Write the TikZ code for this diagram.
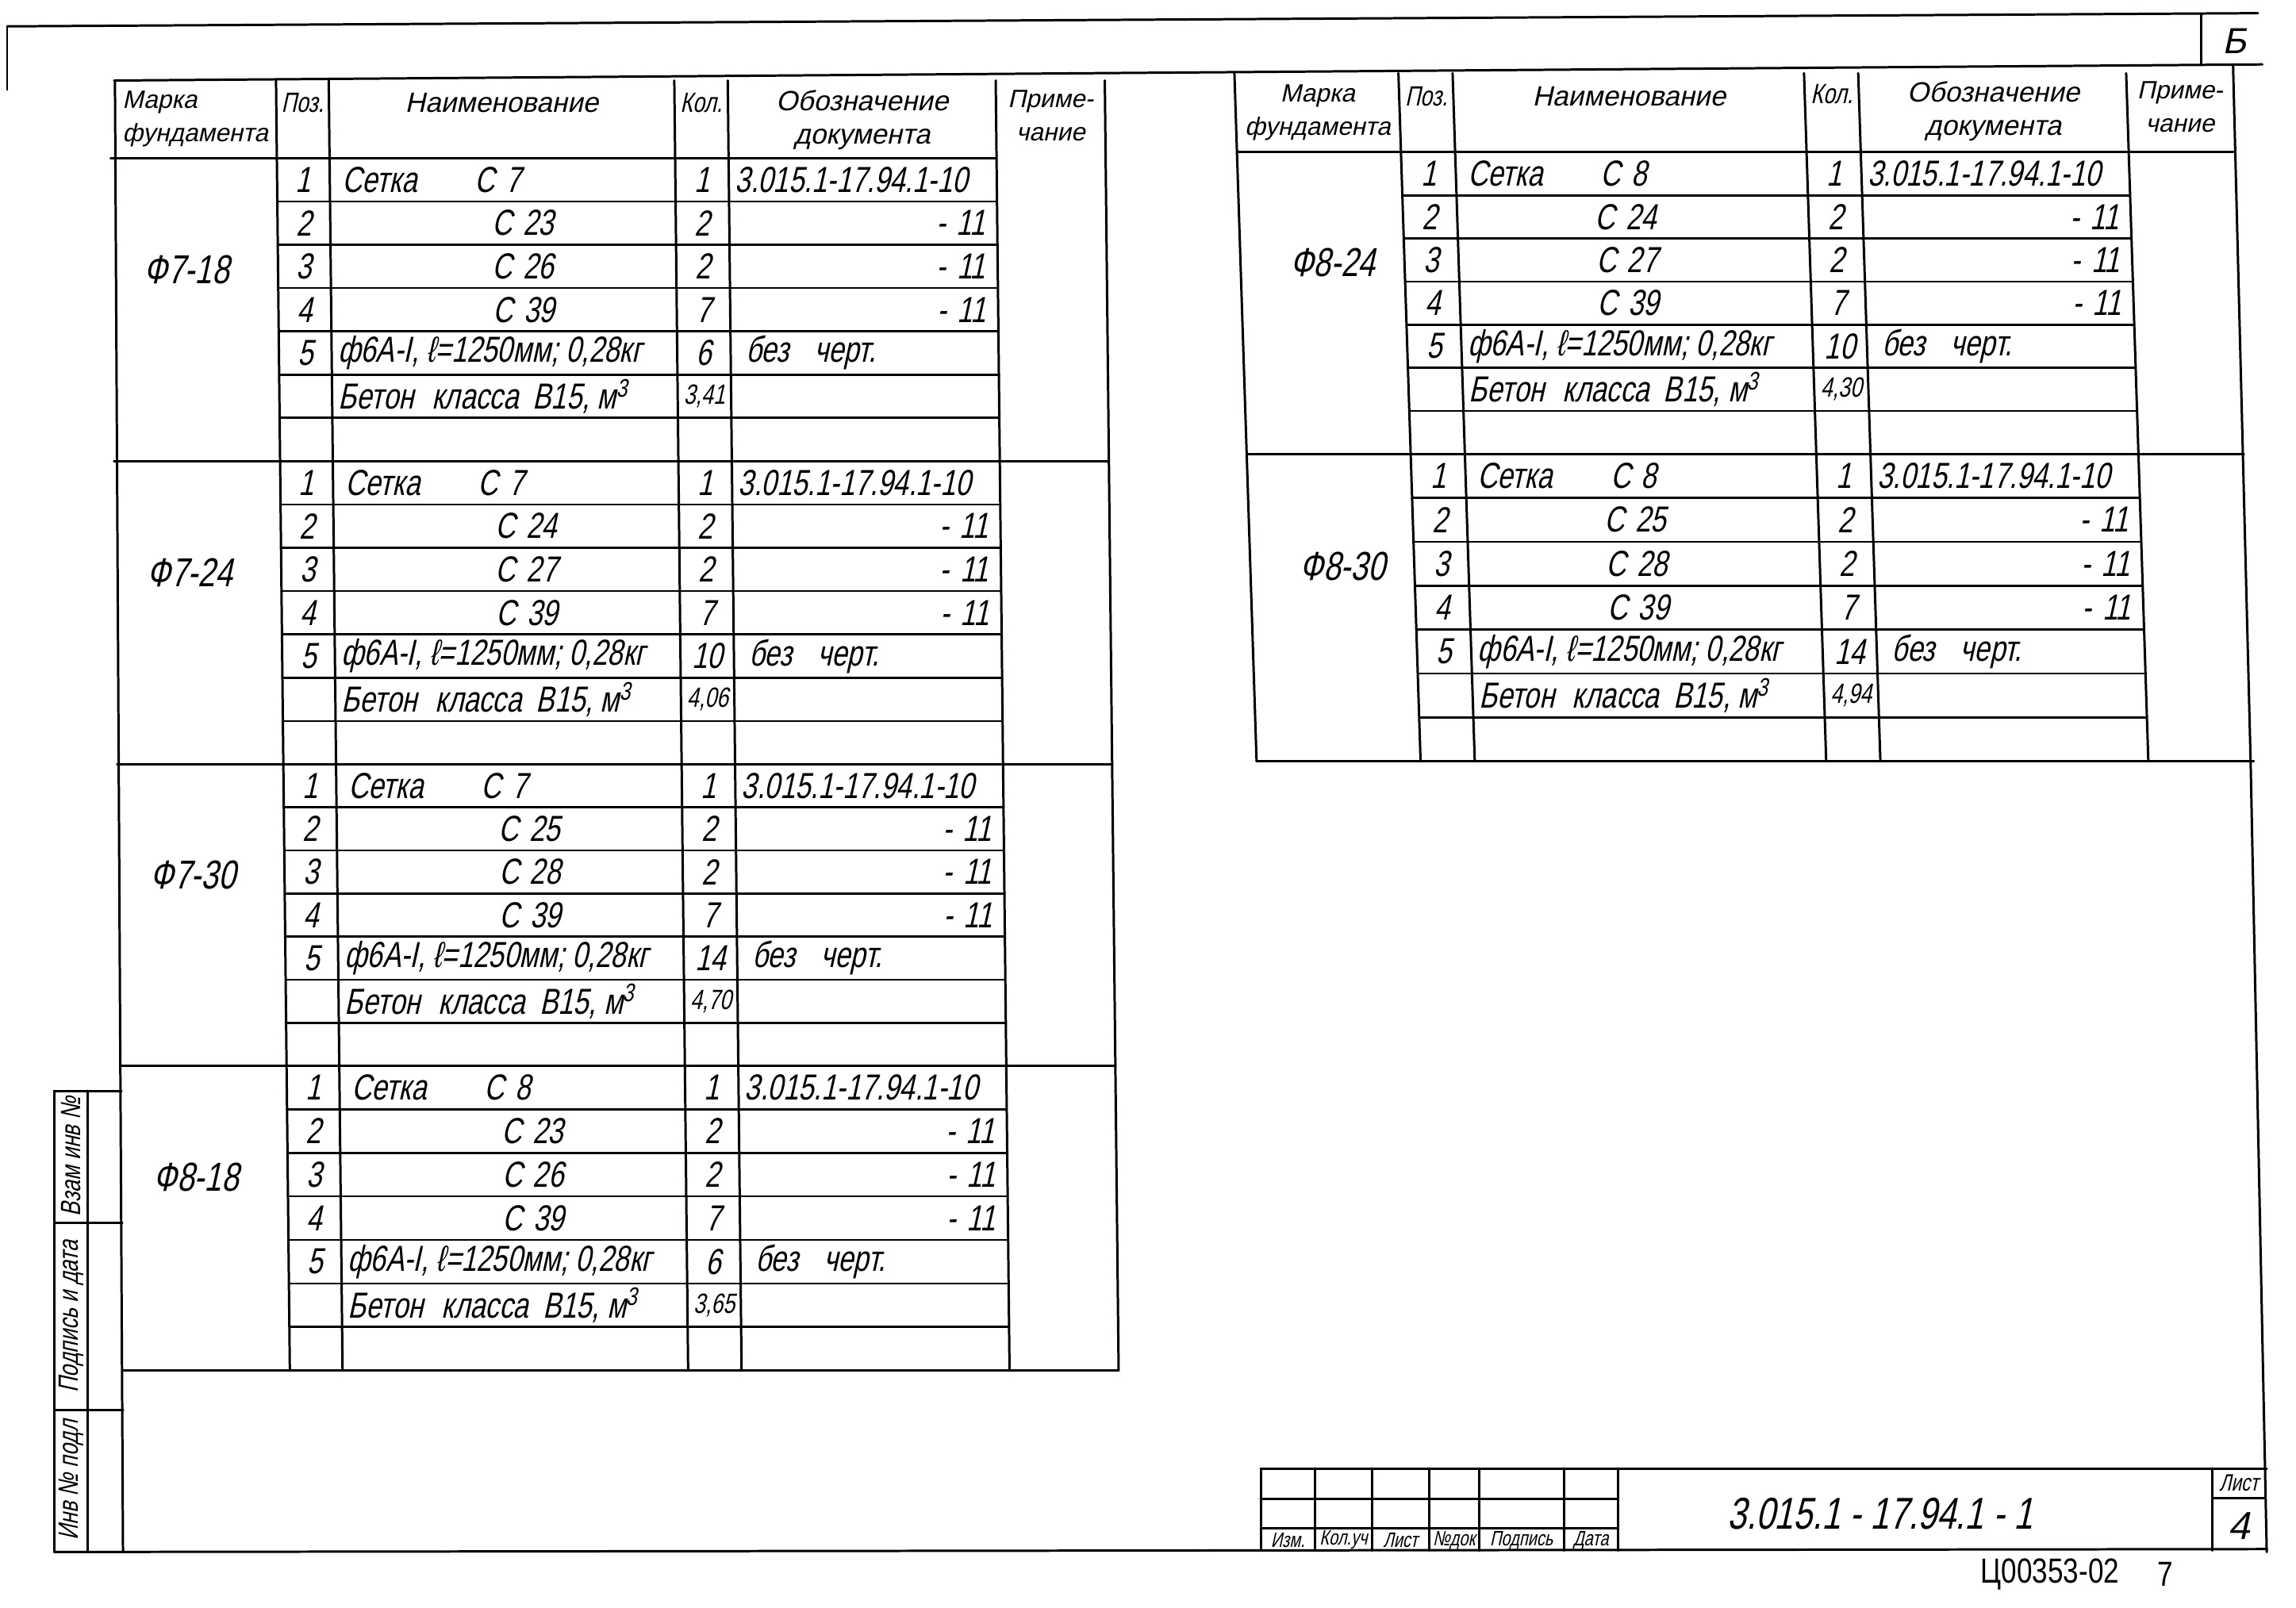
\documentclass[tikz,border=0pt]{standalone}
\usepackage{fontspec}
\newfontfamily\gost[FakeSlant=0.22,FakeStretch=0.76]{Liberation Sans}
\newfontfamily\gostw[FakeSlant=0.22]{Liberation Sans}
\newfontfamily\stampf[FakeStretch=0.8]{Liberation Sans}
\tikzset{
  ln/.style={line width=0.85pt, line cap=round},
  rowln/.style={line width=0.75pt, line cap=round},
  cellt/.style={inner sep=0pt, font=\gost\fontsize{13}{13}\selectfont},
  cellsm/.style={inner sep=0pt, font=\gost\fontsize{10}{10}\selectfont},
  markt/.style={inner sep=0pt, font=\gost\fontsize{14.5}{14.5}\selectfont},
  headt/.style={inner sep=0pt, font=\gostw\fontsize{9}{12}\selectfont, align=center},
  headn/.style={inner sep=0pt, font=\gost\fontsize{10}{12}\selectfont, align=center},
  headbig/.style={inner sep=0pt, font=\gostw\fontsize{10}{12}\selectfont, align=center},
  stampt/.style={inner sep=0pt, font=\gost\fontsize{10}{10}\selectfont, rotate=90},
  tbt/.style={inner sep=0pt, font=\gost\fontsize{7.5}{8}\selectfont},
}
\newcommand\specblock[9]{%
  \pgfmathsetmacro\ya{#1}%
  \pgfmathsetmacro\yb{#2}%
  \pgfmathsetmacro\rh{(#2-#1)/7}%
  \pgfmathsetmacro\rowA{\ya+0.5*\rh}%
  \pgfmathsetmacro\rowB{\ya+1.5*\rh}%
  \pgfmathsetmacro\rowC{\ya+2.5*\rh}%
  \pgfmathsetmacro\rowD{\ya+3.5*\rh}%
  \pgfmathsetmacro\rowE{\ya+4.5*\rh}%
  \pgfmathsetmacro\rowF{\ya+5.5*\rh}%
  \pgfmathsetmacro\xp{(\cB+\cC)/2}%
  \pgfmathsetmacro\xk{(\cD+\cE)/2}%
  \foreach \i in {1,...,6}{\draw[rowln] (\cB,{\ya+\i*\rh}) -- (\cF,{\ya+\i*\rh});}%
  \draw[ln] (\cA,\yb) -- (\cG,\yb);%
  \path (\mx,{\rowC+2}) node[markt] (#9m) {#3}
    (\xp,\rowA) node[cellt] (#9p1) {1}
    (\xp,\rowB) node[cellt] (#9p2) {2}
    (\xp,\rowC) node[cellt] (#9p3) {3}
    (\xp,\rowD) node[cellt] (#9p4) {4}
    (\xp,\rowE) node[cellt] (#9p5) {5}
    ({\cC+8},\rowA) node[cellt,anchor=west] (#9n1) {Сетка\hspace{1.6em}С\hspace{0.3em}#4}
    (\nx,\rowB) node[cellt] (#9n2) {С\hspace{0.3em}#5}
    (\nx,\rowC) node[cellt] (#9n3) {С\hspace{0.3em}#6}
    (\nx,\rowD) node[cellt] (#9n4) {С\hspace{0.3em}39}
    ({\cC+4},\rowE) node[cellt,anchor=west] (#9n5) {ф6A-I, ℓ=1250мм; 0,28кг}
    ({\cC+4},\rowF) node[cellt,anchor=west] (#9n6) {Бетон\hspace{0.5em}класса\hspace{0.4em}В15, м\textsuperscript{3}}
    (\xk,\rowA) node[cellt] (#9k1) {1}
    (\xk,\rowB) node[cellt] (#9k2) {2}
    (\xk,\rowC) node[cellt] (#9k3) {2}
    (\xk,\rowD) node[cellt] (#9k4) {7}
    (\xk,\rowE) node[cellt] (#9k5) {#7}
    (\xk,\rowF) node[cellsm] (#9k6) {#8}
    ({\cE+4},\rowA) node[cellt,anchor=west] (#9o1) {3.015.1-17.94.1-10}
    ({\cF-8},\rowB) node[cellt,anchor=east] (#9o2) {-\hspace{0.3em}11}
    ({\cF-8},\rowC) node[cellt,anchor=east] (#9o3) {-\hspace{0.3em}11}
    ({\cF-8},\rowD) node[cellt,anchor=east] (#9o4) {-\hspace{0.3em}11}
    ({\cE+10},\rowE) node[cellt,anchor=west] (#9o5) {без\hspace{0.7em}черт.};%
}
\begin{document}
\begin{tikzpicture}[x=0.018457cm,y=-0.018457cm]
\useasboundingbox (0,0) rectangle (1568,1098);
\fill[white] (0,0) rectangle (1568,1098);

% ---- sheet frame ----
\coordinate (tl) at (5,18);
\coordinate (tr) at (1542,9);
\draw[ln] (tl) -- (tr);
\draw[line width=0.5pt] (tl) -- (5,62);
\draw[ln] (1503,10) -- (1503,44);
\node[inner sep=0pt, font=\gostw\fontsize{13}{13}\selectfont] (bb) at (1526,28) {Б};
\draw[ln] (78,55) -- (1545,44);               % common top line of both tables
\draw[ln] (1525,44) -- (1537,520) -- (1548,1060); % right frame line
\draw[ln] (78.5,55) -- (84,1060);             % left frame line
\draw[ln] (37,1060) -- (1548,1058);           % bottom frame line

% ---- left table ----
\begin{scope}[y={(0.000203cm,-0.018457cm)}, xshift=-0.01096cm]
\def\cA{75}\def\cB{188.5}\def\cC{224.5}\def\cD{460.5}\def\cE{497}\def\cF{680}\def\cG{754.5}
\def\mx{126}\def\nx{356}
\foreach \c in {\cB,\cC,\cD,\cE,\cF,\cG}{\draw[ln] (\c,55) -- (\c,936);}
\draw[ln] (\cA,108) -- (\cF,108);
\node[headt, align=left, anchor=west] (lh1) at (\cA+8,81) {Марка\\фундамента};
\node[headn] (lh2) at ({(\cB+\cC)/2},70) {Поз.};
\node[headbig] (lh3) at ({(\cC+\cD)/2},70) {Наименование};
\node[headn] (lh4) at ({(\cD+\cE)/2},70) {Кол.};
\node[headbig] (lh5) at ({(\cE+\cF)/2},82) {Обозначение\\документа};
\node[headt] (lh6) at ({(\cF+\cG)/2},79) {Приме-\\чание};
\specblock{108}{315}{Ф7-18}{7}{23}{26}{6}{3,41}{a}
\specblock{315}{522}{Ф7-24}{7}{24}{27}{10}{4,06}{b}
\specblock{522}{728}{Ф7-30}{7}{25}{28}{14}{4,70}{c}
\specblock{728}{936}{Ф8-18}{8}{23}{26}{6}{3,65}{d}
\end{scope}

% ---- right table ----
\begin{scope}[y={(0.0005906cm,-0.018457cm)}, xshift=-0.02953cm]
\def\cA{843}\def\cB{955}\def\cC{992}\def\cD{1232}\def\cE{1269}\def\cF{1452}\def\cG{1524}
\def\mx{906}\def\nx{1107}
\foreach \c in {\cA,\cB,\cC,\cD,\cE,\cF}{\draw[ln] (\c,50) -- (\c,520);}
\draw[ln] (\cA,104) -- (\cG,104);
\node[headt] (rh1) at ({(\cA+\cB)/2},77) {Марка\\фундамента};
\node[headn] (rh2) at ({(\cB+\cC)/2},66) {Поз.};
\node[headbig] (rh3) at ({(\cC+\cD)/2},66) {Наименование};
\node[headn] (rh4) at ({(\cD+\cE)/2},64) {Кол.};
\node[headbig] (rh5) at ({(\cE+\cF)/2},76) {Обозначение\\документа};
\node[headt] (rh6) at ({(\cF+\cG)/2},73) {Приме-\\чание};
\specblock{104}{310}{Ф8-24}{8}{24}{27}{10}{4,30}{e}
\specblock{310}{520}{Ф8-30}{8}{25}{28}{14}{4,94}{f}
\end{scope}

% ---- stamp column (lower left) ----
\draw[ln] (83,745) -- (37,745) -- (37,1060);
\draw[ln] (60,745) -- (60,1060);
\draw[ln] (37,835) -- (83.5,835);
\draw[ln] (37,963) -- (84,963);
\node[stampt] (s1) at (48.5,790) {Взам инв №};
\node[stampt] (s2) at (48.5,899) {Подпись и дата};
\node[stampt] (s3) at (48.5,1011) {Инв № подл};

% ---- title block ----
\draw[ln] (861,1003) -- (1548,1003);
\draw[ln] (861,1024) -- (1105,1024);
\draw[ln] (861,1044) -- (1105,1044);
\foreach \x in {861,898,937,976,1010,1068,1105,1511}{\draw[ln] (\x,1003) -- (\x,1059);}
\draw[ln] (1511,1023) -- (1547,1023);
\node[tbt] (t1) at (879.5,1052) {Изм.};
\node[tbt] (t2) at (917.5,1052) {Кол.уч};
\node[tbt] (t3) at (956.5,1052) {Лист};
\node[tbt] (t4) at (993,1052) {№док};
\node[tbt] (t5) at (1039,1052) {Подпись};
\node[tbt] (t6) at (1086.5,1052) {Дата};
\node[inner sep=0pt, font=\gost\fontsize{16}{16}\selectfont] (code) at (1284,1034) {3.015.1 - 17.94.1 - 1};
\node[inner sep=0pt, font=\gost\fontsize{8.5}{8}\selectfont] (lst) at (1529,1013) {Лист};
\node[inner sep=0pt, font=\gostw\fontsize{14}{14}\selectfont] (lno) at (1529,1042) {4};
\node[inner sep=0pt, font=\stampf\fontsize{12.5}{13}\selectfont] (arch) at (1400,1075) {Ц00353-02};
\node[inner sep=0pt, font=\stampf\fontsize{12.5}{13}\selectfont] (arch2) at (1479,1075) {7};
\end{tikzpicture}
\end{document}
